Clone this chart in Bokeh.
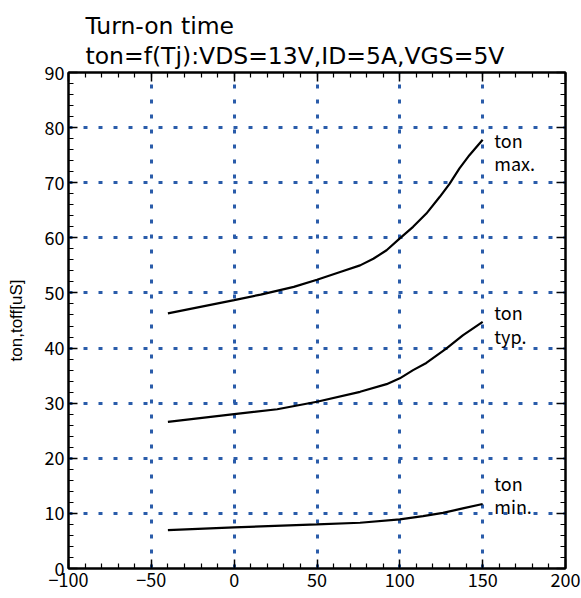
from bokeh.plotting import figure
from bokeh.models import Range1d, LinearAxis, Label, FixedTicker, Title
from bokeh.embed import file_html
from bokeh.resources import INLINE

# Data
tj_max = [-40, 0, 16, 36, 50, 64, 76, 84, 92, 100, 108, 116, 124, 130, 136, 142, 150]
ton_max = [46.3, 48.7, 49.7, 51.1, 52.4, 53.8, 55.0, 56.2, 57.75, 59.9, 62.0, 64.4, 67.4, 69.8, 72.6, 75.0, 77.8]

tj_typ = [-40, 0, 26, 50, 76, 92, 100, 108, 116, 128, 138, 150]
ton_typ = [26.6, 28.0, 28.9, 30.25, 32.06, 33.45, 34.5, 36.0, 37.3, 39.9, 42.3, 44.75]

tj_min = [-40, 0, 50, 76, 100, 114, 126, 138, 150]
ton_min = [6.98, 7.47, 8.0, 8.3, 8.9, 9.5, 10.1, 10.9, 11.7]

x_ticks = [-100, -50, 0, 50, 100, 150, 200]
y_ticks = [0, 10, 20, 30, 40, 50, 60, 70, 80, 90]
grid_x = [-50, 0, 50, 100, 150]
grid_y = [10, 20, 30, 40, 50, 60, 70, 80]
x_minor = list(range(-100, 201, 10))
y_minor = list(range(0, 91, 2))

title1 = "Turn-on time"
title2 = "ton=f(Tj):VDS=13V,ID=5A,VGS=5V"
ylabel = "ton,toff[uS]"

label_x = [157, 157, 157, 157, 157, 157]
label_y = [77.8, 73.5, 46.5, 42.2, 15.6, 11.3]
label_t = ["ton", "max.", "ton", "typ.", "ton", "min."]

FONT = "Noto Sans CJK JP"
TITLE_FONT = "DejaVu Sans"
GRID_COLOR = "#2a5caa"

p = figure(width=581, height=598, output_backend="svg", toolbar_location=None,
           x_range=Range1d(-100, 200), y_range=Range1d(0, 90),
           min_border_left=68, min_border_right=16, min_border_top=72, min_border_bottom=30)
p.title.text = ""
p.title.visible = False
p.outline_line_color = "black"
p.outline_line_width = 2
p.background_fill_color = "white"
p.border_fill_color = "white"

p.xgrid.ticker = FixedTicker(ticks=grid_x)
p.ygrid.ticker = FixedTicker(ticks=grid_y)
for g in (p.xgrid, p.ygrid):
    g.grid_line_color = GRID_COLOR
    g.grid_line_width = 3
    g.grid_line_dash = "4 11"

def style_axis(ax, ticks, minor, show_labels):
    ax.ticker = FixedTicker(ticks=ticks, minor_ticks=minor)
    ax.axis_line_color = "black"
    ax.axis_line_width = 2
    ax.major_tick_in = 9
    ax.major_tick_out = 0
    ax.minor_tick_in = 5
    ax.minor_tick_out = 0
    ax.major_tick_line_color = "black"
    ax.minor_tick_line_color = "black"
    ax.major_tick_line_width = 1.5
    ax.minor_tick_line_width = 1.2
    ax.major_label_text_font = FONT
    ax.major_label_text_font_size = "18px"
    ax.major_label_text_color = "black"
    ax.major_label_standoff = 4
    if not show_labels:
        ax.major_label_overrides = {t: "" for t in ticks}
        ax.major_label_standoff = 0

style_axis(p.xaxis[0], x_ticks, x_minor, True)
style_axis(p.yaxis[0], y_ticks, y_minor, True)
p.yaxis[0].axis_label = ylabel
p.yaxis[0].axis_label_text_font = "Liberation Sans"
p.yaxis[0].axis_label_text_font_style = "normal"
p.yaxis[0].axis_label_text_font_size = "17px"
p.yaxis[0].axis_label_text_color = "black"
p.yaxis[0].axis_label_standoff = 16

top = LinearAxis()
right = LinearAxis()
style_axis(top, x_ticks, x_minor, False)
style_axis(right, y_ticks, y_minor, False)
p.add_layout(top, "above")
p.add_layout(right, "right")

p.add_layout(Title(text=title1 + "\n" + title2, align="left", offset=17, standoff=5,
                   text_font=TITLE_FONT, text_font_size="23.5px", text_font_style="normal",
                   text_line_height=1.08, text_color="black"), "above")

p.line(tj_max, ton_max, line_color="black", line_width=2.2)
p.line(tj_typ, ton_typ, line_color="black", line_width=2.2)
p.line(tj_min, ton_min, line_color="black", line_width=2.2)

for x, y, t in zip(label_x, label_y, label_t):
    p.add_layout(Label(x=x, y=y, text=t, text_font=FONT, text_font_size="18px",
                       text_baseline="middle", text_color="black"))

open("out.html", "w").write(file_html(p, INLINE))
